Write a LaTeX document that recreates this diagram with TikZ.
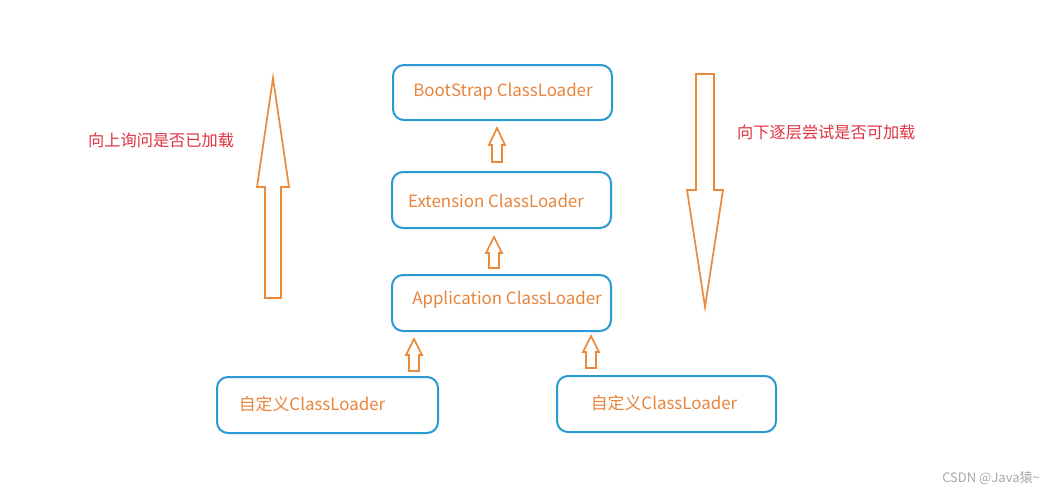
\documentclass[tikz,border=0pt]{standalone}
\usepackage{fontspec}
\newfontfamily\cjk{Noto Sans CJK SC}
\usetikzlibrary{calc}
\definecolor{boxblue}{HTML}{2A9AD4}
\definecolor{txtorange}{HTML}{E8843C}
\definecolor{arrorange}{HTML}{EB8A3A}
\definecolor{txtred}{HTML}{DD3340}
\definecolor{wmgray}{HTML}{A8A8A8}
\tikzset{
  loader/.style={draw=boxblue, line width=2pt, rounded corners=11pt, inner sep=0pt},
  ltext/.style={text=txtorange, font=\cjk\fontsize{16.9}{20}\selectfont, inner sep=0pt},
  note/.style={text=txtred, font=\cjk\fontsize{16.2}{19}\selectfont, inner sep=0pt, anchor=west},
  hollow/.style={draw=arrorange, line width=1.7pt, fill=white, line join=miter},
}
% hollow arrow: #1 tip, #2 tail (coordinates, vertical), #3 head length, #4 half head width, #5 half shaft width
\newcommand{\hollowarrow}[5]{%
  \draw[hollow] let \p1=(#1), \p2=(#2), \n1={sign(\y1-\y2)} in
    (\x1,\y1) -- (\x1+#4,\y1-\n1*#3) -- (\x1+#5,\y1-\n1*#3) -- (\x1+#5,\y2)
    -- (\x1-#5,\y2) -- (\x1-#5,\y1-\n1*#3) -- (\x1-#4,\y1-\n1*#3) -- cycle;}
\begin{document}
\begin{tikzpicture}[x=1pt,y=-1pt]
\useasboundingbox (0,0) rectangle (1055,499);
% boxes
\draw[loader] (393,65) rectangle (612,120);
\node[ltext] (boot) at (503,92) {BootStrap ClassLoader};
\draw[loader] (392,172) rectangle (611,228);
\node[ltext] (ext) at (496,201) {Extension ClassLoader};
\draw[loader] (392,275) rectangle (611,331);
\node[ltext] (app) at (507,300) {Application ClassLoader};
\draw[loader] (217,377) rectangle (438,433);
\node[ltext] (c1) at (312,404) {自定义ClassLoader};
\draw[loader] (557,376) rectangle (776,432);
\node[ltext] (c2) at (664,403) {自定义ClassLoader};
% small connectors
\coordinate (a1t) at (497,128); \coordinate (a1b) at (497,162);
\coordinate (a2t) at (494,237); \coordinate (a2b) at (494,268);
\coordinate (a3t) at (414,339); \coordinate (a3b) at (414,371);
\coordinate (a4t) at (591,336); \coordinate (a4b) at (591,368);
\hollowarrow{a1t}{a1b}{17}{8}{5}
\hollowarrow{a2t}{a2b}{16}{8}{5}
\hollowarrow{a3t}{a3b}{16}{8}{5}
\hollowarrow{a4t}{a4b}{16}{8}{5}
% big arrows
\coordinate (upt) at (273,78); \coordinate (upb) at (273,298);
\hollowarrow{upt}{upb}{109}{16}{8}
\coordinate (dnt) at (705,307); \coordinate (dnb) at (705,74);
\hollowarrow{dnt}{dnb}{117}{18}{9}
% notes
\node[note] (n1) at (88,140) {向上询问是否已加载};
\node[note] (n2) at (737,132) {向下逐层尝试是否可加载};
% watermark
\node[text=wmgray, font=\cjk\fontsize{13}{15}\selectfont, anchor=east, inner sep=0pt] (wm) at (1040,478) {CSDN @Java猿\textasciitilde};
\end{tikzpicture}
\end{document}
